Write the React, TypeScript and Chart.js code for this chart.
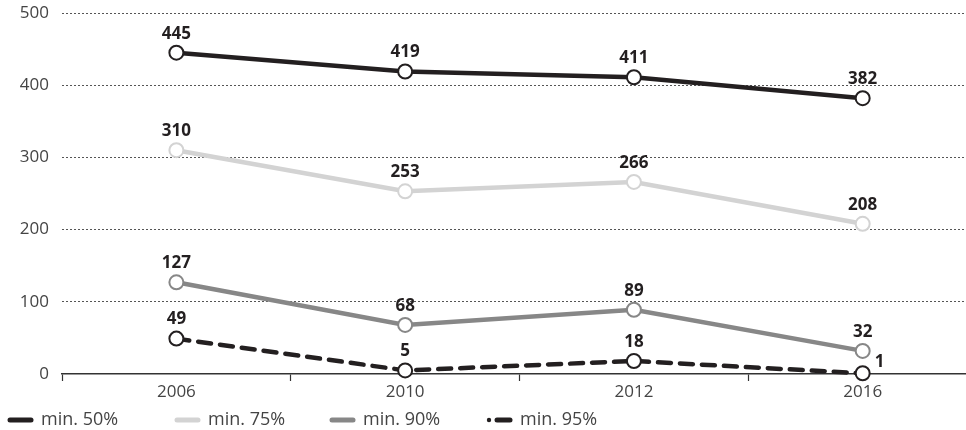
import React, { useEffect, useRef } from 'react';
import { Chart, registerables } from 'chart.js';

Chart.register(...registerables);

const categories = ['2006', '2010', '2012', '2016'];
const min50 = [445, 419, 411, 382];
const min75 = [310, 253, 266, 208];
const min90 = [127, 68, 89, 32];
const min95 = [49, 5, 18, 1];
const seriesLabels = ['min. 50%', 'min. 75%', 'min. 90%', 'min. 95%'];
const seriesColors = ['#231f20', '#d3d3d3', '#878787', '#231f20'];
const yMin = 0;
const yMax = 500;
const yStep = 100;

const FONT = "'Open Sans', 'Noto Sans', sans-serif";

const toPoints = (vals: number[]) => vals.map((v, i) => ({ x: i, y: v }));

const dataLabelPlugin = {
  id: 'dataLabels',
  afterDatasetsDraw(chart: any) {
    const ctx = chart.ctx;
    ctx.save();
    ctx.font = `bold 17px ${FONT}`;
    ctx.fillStyle = '#231f20';
    ctx.textBaseline = 'middle';
    chart.data.datasets.forEach((ds: any, di: number) => {
      const meta = chart.getDatasetMeta(di);
      meta.data.forEach((el: any, i: number) => {
        const v = ds.data[i].y;
        if (di === 3 && i === ds.data.length - 1) {
          ctx.textAlign = 'left';
          ctx.fillText(String(v), el.x + 12, el.y - 11);
        } else {
          ctx.textAlign = 'center';
          ctx.fillText(String(v), el.x, el.y - 19);
        }
      });
    });
    ctx.restore();
  },
};

const legendPlugin = {
  id: 'customLegend',
  afterDraw(chart: any) {
    const ctx = chart.ctx;
    const starts = [8, 175, 330, 487];
    const y = chart.height - 10;
    ctx.save();
    chart.data.datasets.forEach((ds: any, di: number) => {
      const x0 = starts[di];
      ctx.strokeStyle = ds.borderColor;
      ctx.fillStyle = ds.borderColor;
      ctx.lineWidth = 5;
      ctx.lineCap = 'round';
      ctx.setLineDash([]);
      ctx.beginPath();
      if (ds.borderDash && ds.borderDash.length) {
        ctx.arc(x0 + 2, y, 2.2, 0, Math.PI * 2);
        ctx.fill();
        ctx.beginPath();
        ctx.moveTo(x0 + 10, y);
        ctx.lineTo(x0 + 23, y);
      } else {
        ctx.moveTo(x0 + 2, y);
        ctx.lineTo(x0 + 23, y);
      }
      ctx.stroke();
      ctx.font = `18px ${FONT}`;
      ctx.fillStyle = '#444';
      ctx.textAlign = 'left';
      ctx.textBaseline = 'middle';
      ctx.fillText(ds.label, x0 + 33, y);
    });
    ctx.restore();
  },
};

export default function App() {
  const ref = useRef<HTMLCanvasElement | null>(null);

  useEffect(() => {
    if (!ref.current) return;
    const seriesData = [min50, min75, min90, min95];
    const chart = new Chart(ref.current, {
      type: 'line',
      data: {
        datasets: seriesData.map((vals, i) => ({
          label: seriesLabels[i],
          data: toPoints(vals),
          borderColor: seriesColors[i],
          backgroundColor: seriesColors[i],
          borderWidth: 4.5,
          borderDash: i === 3 ? [13, 9] : [],
          borderCapStyle: i === 3 ? 'round' : 'butt',
          pointRadius: 7,
          pointHoverRadius: 7,
          pointBackgroundColor: '#ffffff',
          pointBorderColor: seriesColors[i],
          pointBorderWidth: 2,
          tension: 0,
          clip: false,
        })) as any,
      },
      options: {
        responsive: false,
        animation: false,
        devicePixelRatio: 1,
        layout: { padding: { top: 13, right: 0, left: 0, bottom: 26 } },
        plugins: {
          legend: { display: false },
          tooltip: { enabled: false },
        },
        scales: {
          x: {
            type: 'linear',
            min: -0.5,
            max: 3.456,
            afterBuildTicks: (scale: any) => {
              const t: any[] = [];
              for (let v = -0.5; v <= categories.length - 1 + 0.01; v += 0.5) t.push({ value: v });
              scale.ticks = t;
            },
            afterFit: (scale: any) => {
              scale.height = 30;
              scale.paddingLeft = 0;
              scale.paddingRight = 0;
            },
            ticks: {
              autoSkip: false,
              maxRotation: 0,
              padding: 1,
              color: '#444',
              font: { family: FONT, size: 17 },
              callback: (v: any) => (Number.isInteger(v) ? categories[v] : ''),
            },
            grid: {
              drawOnChartArea: false,
              drawTicks: true,
              tickLength: 7,
              tickWidth: 1.2,
              tickColor: (c: any) =>
                c.tick && Number.isInteger(c.tick.value) ? 'rgba(0,0,0,0)' : '#333',
            },
            border: { display: true, color: '#333', width: 1.5 },
          },
          y: {
            min: yMin,
            max: yMax,
            afterFit: (scale: any) => {
              scale.width = 62;
              scale.paddingTop = 0;
              scale.paddingBottom = 0;
            },
            ticks: {
              stepSize: yStep,
              padding: 13,
              color: '#444',
              font: { family: FONT, size: 17 },
            },
            grid: {
              drawTicks: false,
              lineWidth: 1,
              color: (c: any) => (c.tick && c.tick.value === 0 ? 'rgba(0,0,0,0)' : '#555'),
            },
            border: { display: false, dash: [2, 2] },
          },
        },
      } as any,
      plugins: [dataLabelPlugin, legendPlugin],
    });
    return () => chart.destroy();
  }, []);

  return (
    <div
      style={{
        position: 'absolute',
        left: 0,
        top: 0,
        width: 966,
        height: 430,
        overflow: 'hidden',
        background: '#fff',
      }}
    >
      <canvas ref={ref} width={976} height={430} style={{ display: 'block' }} />
    </div>
  );
}
